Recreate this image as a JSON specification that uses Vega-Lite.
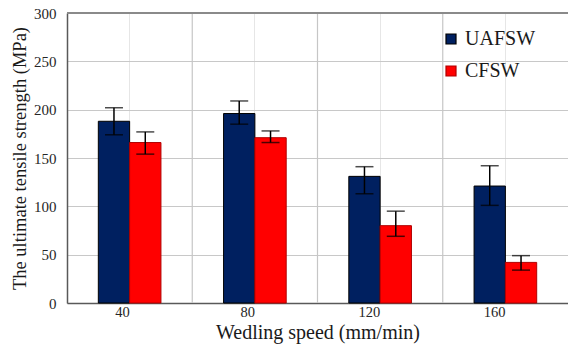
{
  "$schema": "https://vega.github.io/schema/vega-lite/v6.json",
  "autosize": "none",
  "width": 501,
  "height": 290,
  "padding": {"left": 67, "top": 13, "right": 0, "bottom": 53},
  "background": "white",
  "config": {
    "font": "Liberation Serif",
    "view": {"stroke": null}
  },
  "data": {
    "values": [
      {"speed": "40", "process": "UAFSW", "value": 188, "lo": 174, "hi": 202},
      {"speed": "40", "process": "CFSW", "value": 166, "lo": 154, "hi": 177},
      {"speed": "80", "process": "UAFSW", "value": 196, "lo": 185, "hi": 209},
      {"speed": "80", "process": "CFSW", "value": 171, "lo": 166, "hi": 178},
      {"speed": "120", "process": "UAFSW", "value": 131, "lo": 113, "hi": 141},
      {"speed": "120", "process": "CFSW", "value": 80, "lo": 69, "hi": 95},
      {"speed": "160", "process": "UAFSW", "value": 121, "lo": 101, "hi": 142},
      {"speed": "160", "process": "CFSW", "value": 42, "lo": 34, "hi": 49}
    ]
  },
  "layer": [
    {
      "data": {"values": [{"speed": "80"}, {"speed": "120"}, {"speed": "160"}]},
      "mark": {"type": "rule", "color": "#c6c6c6", "strokeWidth": 1.2},
      "encoding": {
        "x": {"field": "speed", "type": "ordinal", "bandPosition": 0, "sort": ["40", "80", "120", "160"]}
      }
    },
    {
      "mark": {"type": "bar", "strokeWidth": 1},
      "encoding": {
        "x": {
          "field": "speed", "type": "ordinal", "sort": ["40", "80", "120", "160"],
          "scale": {"paddingInner": 0, "paddingOuter": 0},
          "axis": {
            "title": "Wedling speed (mm/min)",
            "titleFont": "Liberation Serif", "titleFontSize": 20, "titleFontWeight": "normal", "titleColor": "#1a1a1a",
            "titlePadding": 4,
            "labelFont": "Liberation Serif", "labelFontSize": 14.5, "labelColor": "#262626", "labelAngle": 0, "labelPadding": 9,
            "ticks": false,
            "grid": true, "gridColor": "#e6e6e6", "gridWidth": 1,
            "domainColor": "#595959", "domainWidth": 1.5
          }
        },
        "xOffset": {
          "field": "process", "type": "nominal", "sort": ["UAFSW", "CFSW"],
          "scale": {"paddingInner": 0, "paddingOuter": 1.0875}
        },
        "y": {
          "field": "value", "type": "quantitative",
          "scale": {"domain": [0, 300], "nice": false},
          "axis": {
            "title": "The ultimate tensile strength (MPa)",
            "titleFont": "Liberation Serif", "titleFontSize": 18.5, "titleFontWeight": "normal", "titleColor": "#1a1a1a",
            "titlePadding": 4,
            "values": [0, 25, 50, 75, 100, 125, 150, 175, 200, 225, 250, 275, 300],
            "labelExpr": "datum.value % 50 === 0 ? datum.label : ''",
            "labelFont": "Liberation Serif", "labelFontSize": 15, "labelColor": "#262626", "labelPadding": 11,
            "ticks": false,
            "grid": true,
            "gridColor": {"condition": {"test": "datum.value % 50 === 0", "value": "#c8c8c8"}, "value": "#e8e8e8"},
            "gridWidth": 1.2,
            "domainColor": "#595959", "domainWidth": 1.5
          }
        },
        "color": {
          "field": "process", "type": "nominal",
          "scale": {"domain": ["UAFSW", "CFSW"], "range": ["#002060", "#ff0000"]},
          "legend": {
            "title": null, "orient": "none", "legendX": 374, "legendY": 16,
            "symbolType": "square", "symbolSize": 100, "symbolStrokeWidth": 1.2,
            "labelFont": "Liberation Serif", "labelFontSize": 20, "labelColor": "#1a1a1a", "labelOffset": 4,
            "rowPadding": 12,
            "encode": {
              "symbols": {"update": {"stroke": {"signal": "datum.value === 'CFSW' ? '#5b9bd5' : '#000000'"}}}
            }
          }
        },
        "stroke": {
          "field": "process", "type": "nominal",
          "scale": {"domain": ["UAFSW", "CFSW"], "range": ["#000000", "#b00000"]},
          "legend": null
        }
      }
    },
    {
      "mark": {"type": "rule", "color": "#000000", "strokeWidth": 1.5},
      "encoding": {
        "x": {"field": "speed", "type": "ordinal", "sort": ["40", "80", "120", "160"]},
        "xOffset": {"field": "process", "type": "nominal", "sort": ["UAFSW", "CFSW"]},
        "y": {"field": "lo", "type": "quantitative"},
        "y2": {"field": "hi"}
      }
    },
    {
      "mark": {"type": "tick", "color": "#000000", "thickness": 1.5, "size": 18, "orient": "horizontal"},
      "encoding": {
        "x": {"field": "speed", "type": "ordinal", "sort": ["40", "80", "120", "160"]},
        "xOffset": {"field": "process", "type": "nominal", "sort": ["UAFSW", "CFSW"]},
        "y": {"field": "lo", "type": "quantitative"}
      }
    },
    {
      "mark": {"type": "tick", "color": "#000000", "thickness": 1.5, "size": 18, "orient": "horizontal"},
      "encoding": {
        "x": {"field": "speed", "type": "ordinal", "sort": ["40", "80", "120", "160"]},
        "xOffset": {"field": "process", "type": "nominal", "sort": ["UAFSW", "CFSW"]},
        "y": {"field": "hi", "type": "quantitative"}
      }
    },
    {
      "mark": {"type": "rule", "color": "#8a8a8a", "strokeWidth": 2},
      "encoding": {"y": {"datum": 300, "type": "quantitative"}}
    }
  ]
}
